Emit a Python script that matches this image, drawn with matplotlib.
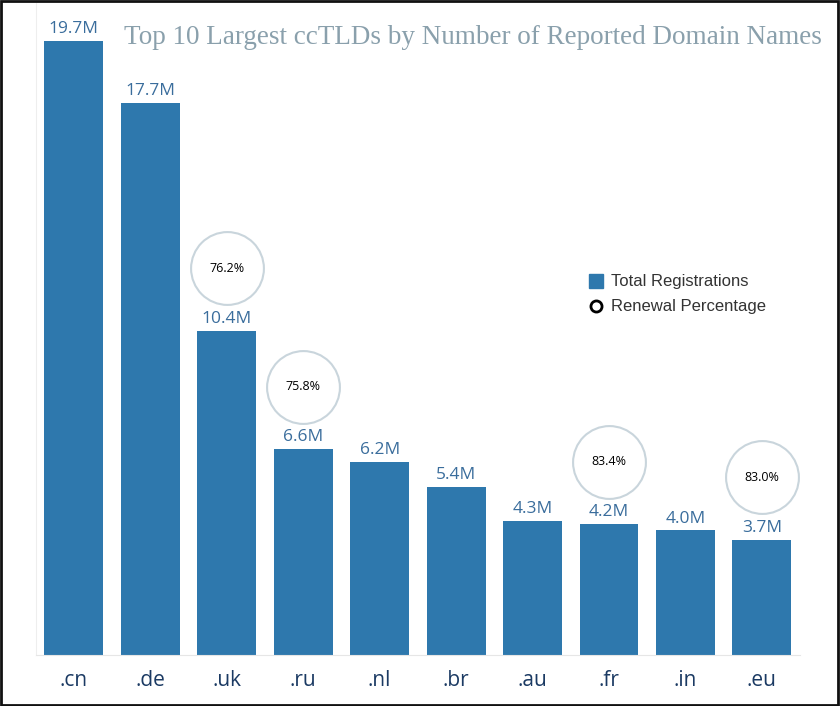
import matplotlib.pyplot as plt
from matplotlib.lines import Line2D
from matplotlib.patches import Rectangle

# data
tlds = ['.cn', '.de', '.uk', '.ru', '.nl', '.br', '.au', '.fr', '.in', '.eu']
registrations = [19.7, 17.7, 10.4, 6.6, 6.2, 5.4, 4.3, 4.2, 4.0, 3.7]
renewal_pct = [None, None, 76.2, 75.8, None, None, None, 83.4, None, 83.0]

bar_color = '#2e78ad'
label_color = '#3a6d9c'
tick_color = '#1b3a63'
title_color = '#8aa0ac'

fig = plt.figure(figsize=(8.4, 7.06), dpi=100)
ax = fig.add_axes([0.0425, 0.0722, 0.91, 0.9278])

x = range(len(tlds))
ax.bar(x, registrations, width=0.77, color=bar_color, zorder=2)
ax.set_xlim(-0.5, len(tlds) - 0.5)
ax.set_ylim(0, 21)

for i, v in enumerate(registrations):
    ax.text(i, v + 0.12, f"{v:.1f}M", ha='center', va='bottom',
            fontsize=12.5, color=label_color, family='Open Sans')

# renewal bubbles sit above the value labels
for i, (v, r) in enumerate(zip(registrations, renewal_pct)):
    if r is None:
        continue
    ax.scatter([i], [v + 2.0], s=2750, facecolor='white',
               edgecolor='#c9d5dc', linewidth=1.5, zorder=3)
    ax.text(i, v + 2.0, f"{r:.1f}%", ha='center', va='center',
            fontsize=9, color='black', family='Open Sans', zorder=4)

ax.set_xticks(list(x))
ax.set_xticklabels(tlds, fontsize=15, color=tick_color, family='Open Sans')
ax.tick_params(axis='x', length=0, pad=11)
ax.set_yticks([])
for s in ['top', 'right']:
    ax.spines[s].set_visible(False)
ax.spines['left'].set_color('#eeeeee')
ax.spines['bottom'].set_color('#e6e6e6')

fig.text(0.979, 0.947, 'Top 10 Largest ccTLDs by Number of Reported Domain Names',
         ha='right', va='center', fontsize=19.5, color=title_color,
         family='Liberation Serif')

handles = [
    Line2D([], [], marker='s', linestyle='none', markersize=10,
           markerfacecolor=bar_color, markeredgecolor=bar_color),
    Line2D([], [], marker='o', linestyle='none', markersize=8,
           markerfacecolor='white', markeredgecolor='black', markeredgewidth=2),
]
ax.legend(handles, ['Total Registrations', 'Renewal Percentage'],
          loc='upper left', bbox_to_anchor=(0.705, 0.604), frameon=False,
          handlelength=0.8, handletextpad=0.5, labelspacing=0.6,
          prop={'family': 'Liberation Sans', 'size': 12}, labelcolor='#333333')

# dark frame round the picture
fig.patches.append(Rectangle((0.001, 0.001), 0.997, 0.997, transform=fig.transFigure,
                             fill=False, edgecolor='#111111', linewidth=2))

fig.savefig('out.png', dpi=100)
